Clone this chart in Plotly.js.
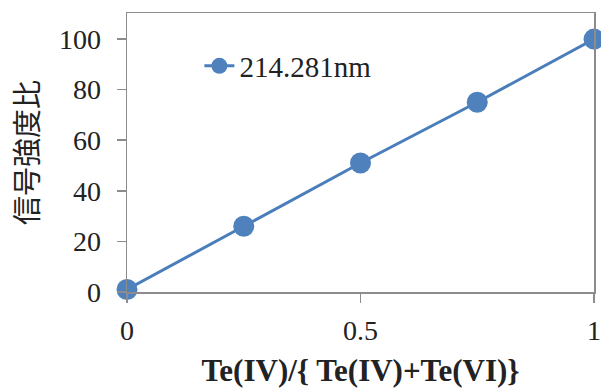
<!DOCTYPE html>
<html>
<head>
<meta charset="utf-8">
<script src="https://cdn.plot.ly/plotly-3.0.1.min.js"></script>
<style>html,body{margin:0;padding:0;background:#fff;}#chart{width:601px;height:389px;}</style>
</head>
<body>
<div id="chart"></div>
<script>
const ratio = [0, 0.25, 0.5, 0.75, 1];
const signal = [1, 26, 51, 75, 100];
const seriesName = "214.281nm";
const xTickVals = [0, 0.5, 1];
const xTickText = ["0", "0.5", "1"];
const yTickVals = [0, 20, 40, 60, 80, 100];

const serif = "'Liberation Serif', 'Times New Roman', serif";
const trace = {
  x: ratio, y: signal, name: seriesName, type: "scatter", mode: "lines+markers",
  line: {color: "#4a7ebb", width: 3},
  marker: {color: "#4f81bd", size: 21},
  cliponaxis: false
};
const layout = {
  width: 601, height: 389,
  margin: {l: 127, r: 7, t: 13, b: 97},
  paper_bgcolor: "#fff", plot_bgcolor: "#fff",
  showlegend: true,
  legend: {x: 0.155, y: 0.81, xanchor: "left", yanchor: "middle", bgcolor: "rgba(0,0,0,0)",
    font: {family: serif, size: 29, color: "#222"}},
  xaxis: {
    range: [0, 1], tickvals: xTickVals, ticktext: xTickText,
    showgrid: false, zeroline: false, showline: true, mirror: true, linecolor: "#8c8c8c", linewidth: 1.5,
    ticks: "outside", ticklen: 9, tickcolor: "#8c8c8c", tickwidth: 1.5,
    ticklabelstandoff: 4,
    tickfont: {family: serif, size: 28, color: "#222"},
    title: {text: "<b>Te(IV)/{ Te(IV)+Te(VI)}</b>", font: {family: serif, size: 31, color: "#222"}, standoff: 14}
  },
  yaxis: {
    range: [0, 110.3], tickvals: yTickVals,
    showgrid: false, zeroline: false, showline: true, mirror: true, linecolor: "#8c8c8c", linewidth: 1.5,
    ticks: "outside", ticklen: 9, tickcolor: "#8c8c8c", tickwidth: 1.5,
    ticklabelstandoff: 10,
    tickfont: {family: serif, size: 28, color: "#222"},
    title: {text: "信号強度比", font: {family: "'Noto Sans CJK JP', sans-serif", size: 29, color: "#222"}, standoff: 12}
  }
};
Plotly.newPlot("chart", [trace], layout, {displayModeBar: false, staticPlot: true});
</script>
</body>
</html>
